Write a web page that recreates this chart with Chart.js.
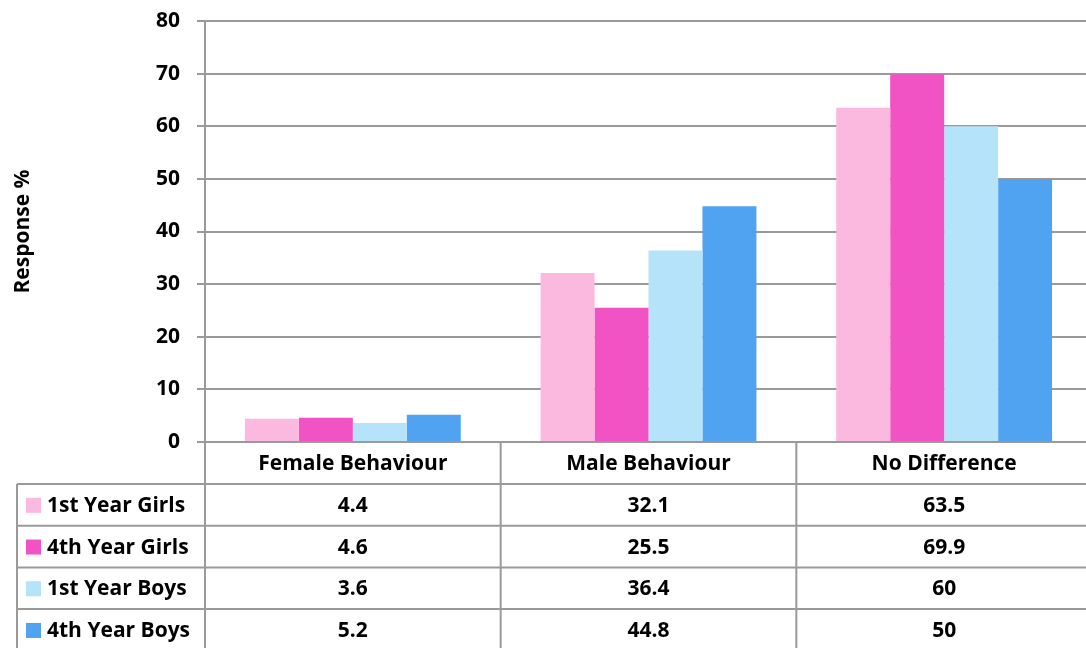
<!DOCTYPE html>
<html>
<head>
<meta charset="utf-8">
<script src="https://cdn.jsdelivr.net/npm/chart.js@4/dist/chart.umd.min.js"></script>
<style>
  html, body { margin: 0; padding: 0; background: #fff; overflow: hidden; }
  #wrap { width: 1094px; height: 648px; }
</style>
</head>
<body>
<div id="wrap"><canvas id="behaviourChart"></canvas></div>
<script>
// categorias y series
const categories = ["Female Behaviour", "Male Behaviour", "No Difference"];
const seriesNames = ["1st Year Girls", "4th Year Girls", "1st Year Boys", "4th Year Boys"];
const firstYearGirls = [4.4, 32.1, 63.5];
const fourthYearGirls = [4.6, 25.5, 69.9];
const firstYearBoys = [3.6, 36.4, 60];
const fourthYearBoys = [5.2, 44.8, 50];
const yTicks = [0, 10, 20, 30, 40, 50, 60, 70, 80];

const COLORS = {
    girls1: "rgb(251, 185, 224)",
    girls4: "rgb(241, 83, 197)",
    boys1: "rgb(181, 228, 250)",
    boys4: "rgb(80, 163, 240)",
    grid: "#9a9a9a",
    text: "#000"
};
const FONT = "'Open Sans', sans-serif";

const seriesData = [firstYearGirls, fourthYearGirls, firstYearBoys, fourthYearBoys];
const seriesColors = [COLORS.girls1, COLORS.girls4, COLORS.boys1, COLORS.boys4];

// tabla de datos debajo del eje x
const dataTablePlugin = {
    id: 'dataTable',
    afterDraw(chart) {
        const ctx = chart.ctx;
        const area = chart.chartArea;
        const x = chart.scales.x;
        const colW = x.width / categories.length;
        const top = area.bottom;
        const headerBottom = top + 42;
        const rowH = 41.7;
        const tableLeft = 17;
        const tableBottom = headerBottom + rowH * seriesNames.length;

        ctx.save();
        ctx.strokeStyle = COLORS.grid;
        ctx.lineWidth = 2;
        ctx.beginPath();
        // lineas horizontales
        for (let r = 0; r < seriesNames.length; r++) {
            const y = headerBottom + r * rowH;
            ctx.moveTo(tableLeft, y);
            ctx.lineTo(area.right, y);
        }
        // lineas verticales
        for (let c = 0; c <= categories.length; c++) {
            const xx = x.left + c * colW;
            ctx.moveTo(xx, top);
            ctx.lineTo(xx, tableBottom);
        }
        ctx.moveTo(tableLeft, headerBottom);
        ctx.lineTo(tableLeft, tableBottom);
        ctx.stroke();

        ctx.fillStyle = COLORS.text;
        ctx.font = "bold 21px " + FONT;
        ctx.textBaseline = 'middle';
        ctx.textAlign = 'center';
        categories.forEach((cat, i) => {
            ctx.fillText(cat, x.getPixelForValue(i), (top + headerBottom) / 2 + 1);
        });

        seriesNames.forEach((name, r) => {
            const cy = headerBottom + r * rowH + rowH / 2 + 1;
            ctx.fillStyle = seriesColors[r];
            ctx.fillRect(26, cy - 8, 15, 15);
            ctx.fillStyle = COLORS.text;
            ctx.textAlign = 'left';
            ctx.fillText(name, 47, cy);
            ctx.textAlign = 'center';
            seriesData[r].forEach((v, i) => {
                ctx.fillText(String(v), x.getPixelForValue(i), cy);
            });
        });
        ctx.restore();
    }
};

document.addEventListener("DOMContentLoaded", function () {
    const ctx = document.getElementById("behaviourChart");

    new Chart(ctx, {
        type: 'bar',
        data: {
            labels: categories,
            datasets: seriesNames.map((name, i) => ({
                label: name,
                data: seriesData[i],
                backgroundColor: seriesColors[i],
                borderWidth: 0,
                categoryPercentage: 0.73,
                barPercentage: 1.0
            }))
        },
        options: {
            responsive: true,
            maintainAspectRatio: false,
            animation: false,
            layout: {
                padding: { left: 0, right: 2, top: 21, bottom: 0 }
            },
            scales: {
                x: {
                    grid: { display: false },
                    border: { display: false },
                    ticks: { display: false },
                    afterFit: scale => { scale.height = 206; }
                },
                y: {
                    min: 0,
                    max: 80,
                    afterBuildTicks: scale => {
                        scale.ticks = yTicks.map(v => ({ value: v }));
                    },
                    afterFit: scale => {
                        scale.width = 205;
                        scale.paddingTop = 0;
                        scale.paddingBottom = 0;
                    },
                    ticks: {
                        padding: 17,
                        color: COLORS.text,
                        font: { family: FONT, size: 21, weight: 'bold' }
                    },
                    grid: {
                        color: COLORS.grid,
                        lineWidth: 2,
                        tickLength: 8
                    },
                    border: { display: true, color: COLORS.grid, width: 2 },
                    title: {
                        display: true,
                        text: 'Response %',
                        color: COLORS.text,
                        padding: { top: 10, bottom: 0 },
                        font: { family: FONT, size: 21, weight: 'bold' }
                    }
                }
            },
            plugins: {
                legend: { display: false },
                tooltip: { enabled: false }
            }
        },
        plugins: [dataTablePlugin]
    });
});
</script>
</body>
</html>
